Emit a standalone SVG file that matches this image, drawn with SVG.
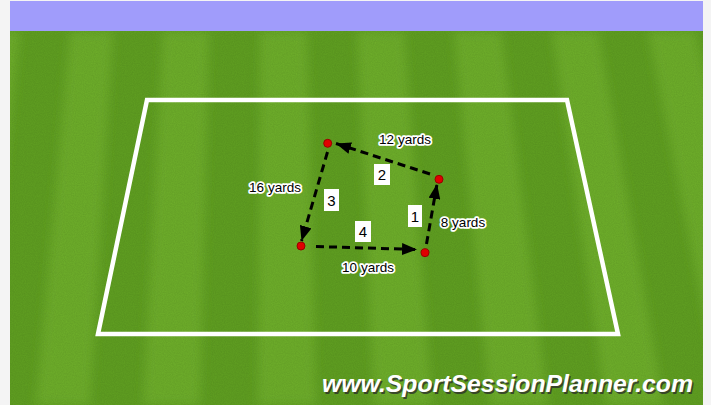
<svg xmlns="http://www.w3.org/2000/svg" width="711" height="405" viewBox="0 0 711 405">
  <defs>
    <style>
      .yl { font-family: "Liberation Sans", Arial, sans-serif; font-size: 13.5px; fill: #000; stroke: #fff; stroke-width: 3.5px; paint-order: stroke; stroke-linejoin: round; text-anchor: middle; }
      .nb { fill: #fff; }
      .nt { font-family: "Liberation Sans", Arial, sans-serif; font-size: 15px; fill: #000; text-anchor: middle; }
      .run { fill: none; stroke: #000; stroke-width: 3; stroke-dasharray: 8 5; marker-end: url(#ah); }
      .cone { fill: #e00000; stroke: #9a0000; stroke-width: 1; }
      .wm { font-family: "Liberation Sans", Arial, sans-serif; font-size: 24px; font-weight: bold; font-style: italic; }
    </style>
    <marker id="ah" markerUnits="userSpaceOnUse" markerWidth="15" markerHeight="12" viewBox="0 0 15 12" refX="15" refY="6" orient="auto">
      <path d="M0,0 L15,6 L0,12 z" fill="#000"/>
    </marker>
    <filter id="soft" x="-5%" y="-5%" width="110%" height="110%">
      <feGaussianBlur stdDeviation="5"/>
    </filter>
    <filter id="noise" x="0" y="0" width="100%" height="100%">
      <feTurbulence type="fractalNoise" baseFrequency="0.9" numOctaves="2" seed="3" result="n"/>
      <feColorMatrix type="matrix" values="0 0 0 0 0  0 0 0 0 0  0 0 0 0 0  0 0 0 0.1 0" />
    </filter>
    <clipPath id="pclip"><rect x="10" y="31" width="693" height="374"/></clipPath>
  </defs>

  <rect x="0" y="0" width="711" height="405" fill="#f4f4f4"/>
  <rect x="10" y="1" width="693" height="30" fill="#a09cfb"/>

  <g id="pitch">
    <rect x="10" y="31" width="693" height="374" fill="#60a021"/>
    <g clip-path="url(#pclip)">
      <g fill="#6eaf2b" filter="url(#soft)">
        <polygon points="-30,31 20,31 -20,405 -80,405"/>
        <polygon points="70,31 113,31 90,405 36,405"/>
        <polygon points="163,31 209,31 200,405 143,405"/>
        <polygon points="260,31 307,31 316,405 258,405"/>
        <polygon points="357,31 404,31 432,405 374,405"/>
        <polygon points="454,31 501,31 548,405 490,405"/>
        <polygon points="552,31 598,31 664,405 606,405"/>
        <polygon points="648,31 695,31 780,405 722,405"/>
      </g>
    </g>
    <rect x="10" y="31" width="693" height="374" filter="url(#noise)"/>
    <polygon id="area" points="147,100 567,100 618,334 98,334" fill="none" stroke="#fff" stroke-width="4.5" stroke-linejoin="miter"/>
  </g>

  <g id="connectors">
    <path id="run1" class="run" d="M426.5,244 L437,184"/>
    <path id="run2" class="run" d="M430,174 L336,143.5"/>
    <path id="run3" class="run" d="M327.5,152 L301.5,241"/>
    <path id="run4" class="run" d="M316,246.5 L417,249.5"/>
  </g>

  <g id="cone-a"><circle class="cone" cx="327.7" cy="143.3" r="4"/></g>
  <g id="cone-b"><circle class="cone" cx="439" cy="179.3" r="4"/></g>
  <g id="cone-c"><circle class="cone" cx="301" cy="246" r="4"/></g>
  <g id="cone-d"><circle class="cone" cx="425" cy="252.7" r="4"/></g>

  <g id="num1"><rect class="nb" x="408" y="205" width="14" height="22"/><text class="nt" x="415" y="221.5">1</text></g>
  <g id="num2"><rect class="nb" x="374" y="164" width="16" height="21"/><text class="nt" x="382" y="180">2</text></g>
  <g id="num3"><rect class="nb" x="324" y="189" width="15" height="22"/><text class="nt" x="331.5" y="205.5">3</text></g>
  <g id="num4"><rect class="nb" x="355" y="221" width="16" height="21"/><text class="nt" x="363" y="237">4</text></g>

  <g id="lbl12"><text class="yl" x="405" y="144">12 yards</text></g>
  <g id="lbl16"><text class="yl" x="275" y="191.5">16 yards</text></g>
  <g id="lbl8"><text class="yl" x="463" y="226.5">8 yards</text></g>
  <g id="lbl10"><text class="yl" x="368" y="271.5">10 yards</text></g>

  <g id="watermark">
    <text class="wm" x="323.5" y="393.5" textLength="371" lengthAdjust="spacingAndGlyphs" fill="#2a2a2a" fill-opacity="0.75">www.SportSessionPlanner.com</text>
    <text class="wm" x="322" y="392" textLength="371" lengthAdjust="spacingAndGlyphs" fill="#fff">www.SportSessionPlanner.com</text>
  </g>
</svg>
